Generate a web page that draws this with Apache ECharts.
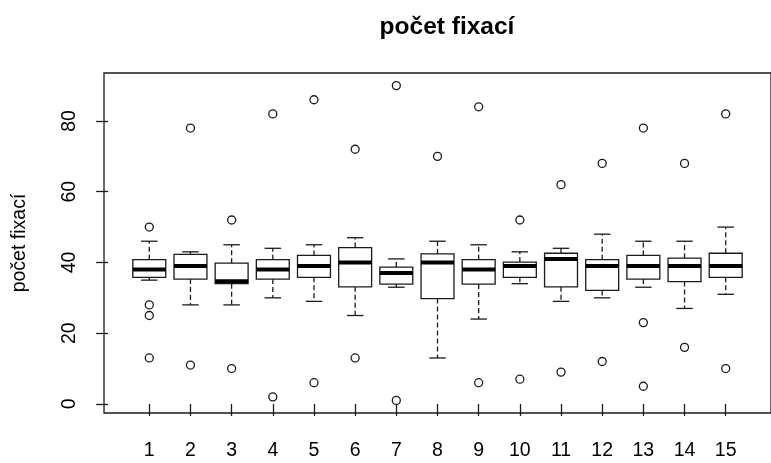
<!DOCTYPE html>
<html>
<head>
<meta charset="utf-8">
<title>počet fixací</title>
<script src="https://cdn.jsdelivr.net/npm/echarts@6/dist/echarts.min.js"></script>
<style>
  html, body { margin: 0; padding: 0; background: #fff; }
  #chart { width: 771px; height: 463px; }
</style>
</head>
<body>
<div id="chart"></div>
<script>
// box statistics, one value per group 1..15
const categories = [1, 2, 3, 4, 5, 6, 7, 8, 9, 10, 11, 12, 13, 14, 15]
const whiskerLow = [35, 28, 28, 30, 29, 25, 33, 13, 24, 34, 29, 30, 33, 27, 31]
const q1 = [35.8, 35.3, 34, 35.3, 35.8, 33.1, 33.9, 29.8, 33.9, 35.8, 33.1, 32.1, 35.3, 34.6, 35.8]
const median = [38, 39, 34.7, 38, 39, 40, 37, 40, 38, 39, 41, 39, 39, 39, 39]
const q3 = [40.8, 42.3, 39.8, 40.8, 42, 44.2, 38.7, 42.4, 40.8, 40.1, 42.6, 40.8, 42, 41.2, 42.6]
const whiskerHigh = [46, 43, 45, 44, 45, 47, 41, 46, 45, 43, 44, 48, 46, 46, 50]
const outliers = [
    [50, 28, 25, 13], [78, 11], [52, 10], [82, 2], [86, 6],
    [72, 13], [90, 1], [70], [84, 6], [52, 7],
    [62, 9], [68, 12], [78, 23, 5], [68, 16], [82, 10]
]
const yTicks = [0, 20, 40, 60, 80]

const ink = '#1a1a1a'
const font = 'Liberation Sans, Arial, sans-serif'

const boxData = categories.map((c, i) => [c, whiskerLow[i], q1[i], median[i], q3[i], whiskerHigh[i]])
let outlierData = []
categories.forEach((c, i) => {
    outliers[i].forEach(v => outlierData.push([c, v]))
})

// draws one R-style box: dashed whiskers, caps, box and a thick median
function renderBox(params, api) {
    const x = api.value(0)
    const lo = api.coord([x, api.value(1)])
    const b1 = api.coord([x, api.value(2)])
    const md = api.coord([x, api.value(3)])
    const b3 = api.coord([x, api.value(4)])
    const hi = api.coord([x, api.value(5)])
    const boxW = api.size([0.8, 0])[0]
    const capW = api.size([0.4, 0])[0]
    const cx = md[0]
    const dashed = { stroke: ink, lineWidth: 1.3, lineDash: [5, 3] }
    const solid = { stroke: ink, lineWidth: 1.3 }
    return {
        type: 'group',
        children: [
            { type: 'line', shape: { x1: cx, y1: b3[1], x2: cx, y2: hi[1] }, style: dashed },
            { type: 'line', shape: { x1: cx, y1: b1[1], x2: cx, y2: lo[1] }, style: dashed },
            { type: 'line', shape: { x1: cx - capW / 2, y1: hi[1], x2: cx + capW / 2, y2: hi[1] }, style: solid },
            { type: 'line', shape: { x1: cx - capW / 2, y1: lo[1], x2: cx + capW / 2, y2: lo[1] }, style: solid },
            {
                type: 'rect',
                shape: { x: cx - boxW / 2, y: b3[1], width: boxW, height: b1[1] - b3[1] },
                style: { fill: '#fff', stroke: ink, lineWidth: 1.3 }
            },
            { type: 'line', shape: { x1: cx - boxW / 2, y1: md[1], x2: cx + boxW / 2, y2: md[1] }, style: { stroke: '#000', lineWidth: 4 } }
        ]
    }
}

const myChart = echarts.init(document.getElementById('chart'), null, { renderer: 'canvas' })

myChart.setOption({
    animation: false,
    backgroundColor: '#fff',
    title: {
        text: 'počet fixací',
        left: 442,
        top: 10,
        textAlign: 'center',
        textStyle: { fontFamily: font, fontSize: 24.5, fontWeight: 'bold', color: '#000' }
    },
    grid: {
        left: 104,
        top: 73,
        width: 676,
        height: 340,
        show: true,
        borderColor: ink,
        borderWidth: 1.3,
        backgroundColor: 'transparent'
    },
    xAxis: {
        type: 'value',
        min: -0.1,
        max: 16.1,
        splitLine: { show: false },
        axisLine: { show: false },
        axisTick: {
            show: true,
            customValues: categories,
            length: 12,
            lineStyle: { color: ink, width: 1.3 }
        },
        axisLabel: {
            customValues: categories,
            margin: 28,
            fontFamily: font,
            fontSize: 19.5,
            color: '#000'
        }
    },
    yAxis: {
        type: 'value',
        min: -2.56,
        max: 93.56,
        name: 'počet fixací',
        nameLocation: 'middle',
        nameGap: 74,
        nameTextStyle: { fontFamily: font, fontSize: 19.5, color: '#000' },
        splitLine: { show: false },
        axisLine: { show: false },
        axisTick: {
            show: true,
            customValues: yTicks,
            length: 12,
            lineStyle: { color: ink, width: 1.3 }
        },
        axisLabel: {
            customValues: yTicks,
            rotate: 90,
            margin: 24,
            fontFamily: font,
            fontSize: 19.5,
            color: '#000'
        }
    },
    series: [
        {
            type: 'custom',
            renderItem: renderBox,
            encode: { x: 0, y: [1, 2, 3, 4, 5] },
            data: boxData
        },
        {
            type: 'scatter',
            symbol: 'circle',
            symbolSize: 8,
            itemStyle: { color: '#fff', borderColor: ink, borderWidth: 1.3, opacity: 1 },
            data: outlierData,
            z: 5
        }
    ]
})
</script>
</body>
</html>
